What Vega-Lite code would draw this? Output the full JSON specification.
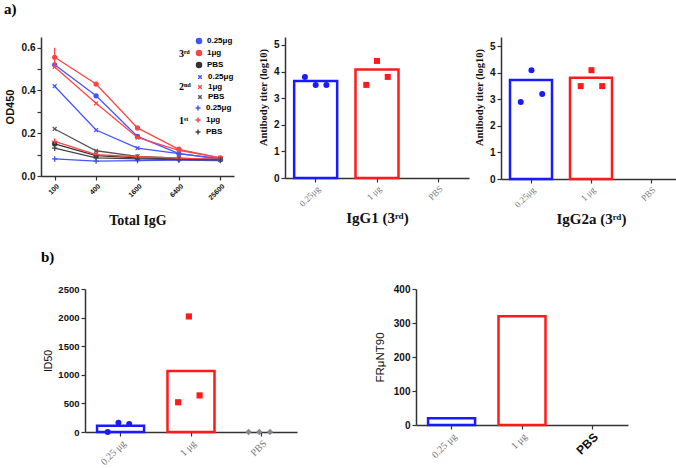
{
  "$schema": "https://vega.github.io/schema/vega-lite/v6.json",
  "background": "white",
  "padding": {"left": 4, "top": 2, "right": 2, "bottom": 2},
  "config": {
    "view": {"stroke": null},
    "axis": {"grid": false, "domainColor": "#333", "tickColor": "#333", "domainWidth": 1.5, "tickWidth": 1.2, "tickSize": 4, "labelColor": "#111", "titleColor": "#111", "labelFont": "Liberation Sans", "titleFont": "Liberation Sans"},
    "legend": {"labelFont": "Liberation Sans", "titleFont": "Liberation Serif", "layout": {"top-right": {"direction": "vertical", "margin": 2}}}
  },
  "datasets": {
    "od": [
      {"dil": "100", "grp": "3rd", "dose": "0.25μg", "od": 0.52},
      {"dil": "400", "grp": "3rd", "dose": "0.25μg", "od": 0.375},
      {"dil": "1600", "grp": "3rd", "dose": "0.25μg", "od": 0.185},
      {"dil": "6400", "grp": "3rd", "dose": "0.25μg", "od": 0.105},
      {"dil": "25600", "grp": "3rd", "dose": "0.25μg", "od": 0.08},
      {"dil": "100", "grp": "3rd", "dose": "1μg", "od": 0.555, "lo": 0.51, "hi": 0.6},
      {"dil": "400", "grp": "3rd", "dose": "1μg", "od": 0.43},
      {"dil": "1600", "grp": "3rd", "dose": "1μg", "od": 0.225},
      {"dil": "6400", "grp": "3rd", "dose": "1μg", "od": 0.125},
      {"dil": "25600", "grp": "3rd", "dose": "1μg", "od": 0.085},
      {"dil": "100", "grp": "3rd", "dose": "PBS", "od": 0.15},
      {"dil": "400", "grp": "3rd", "dose": "PBS", "od": 0.095},
      {"dil": "1600", "grp": "3rd", "dose": "PBS", "od": 0.085},
      {"dil": "6400", "grp": "3rd", "dose": "PBS", "od": 0.08},
      {"dil": "25600", "grp": "3rd", "dose": "PBS", "od": 0.078},
      {"dil": "100", "grp": "2nd", "dose": "0.25μg", "od": 0.42},
      {"dil": "400", "grp": "2nd", "dose": "0.25μg", "od": 0.215},
      {"dil": "1600", "grp": "2nd", "dose": "0.25μg", "od": 0.13},
      {"dil": "6400", "grp": "2nd", "dose": "0.25μg", "od": 0.105},
      {"dil": "25600", "grp": "2nd", "dose": "0.25μg", "od": 0.08},
      {"dil": "100", "grp": "2nd", "dose": "1μg", "od": 0.51},
      {"dil": "400", "grp": "2nd", "dose": "1μg", "od": 0.34},
      {"dil": "1600", "grp": "2nd", "dose": "1μg", "od": 0.18},
      {"dil": "6400", "grp": "2nd", "dose": "1μg", "od": 0.12},
      {"dil": "25600", "grp": "2nd", "dose": "1μg", "od": 0.085},
      {"dil": "100", "grp": "2nd", "dose": "PBS", "od": 0.22},
      {"dil": "400", "grp": "2nd", "dose": "PBS", "od": 0.118},
      {"dil": "1600", "grp": "2nd", "dose": "PBS", "od": 0.092},
      {"dil": "6400", "grp": "2nd", "dose": "PBS", "od": 0.083},
      {"dil": "25600", "grp": "2nd", "dose": "PBS", "od": 0.075},
      {"dil": "100", "grp": "1st", "dose": "0.25μg", "od": 0.08},
      {"dil": "400", "grp": "1st", "dose": "0.25μg", "od": 0.07},
      {"dil": "1600", "grp": "1st", "dose": "0.25μg", "od": 0.072},
      {"dil": "6400", "grp": "1st", "dose": "0.25μg", "od": 0.074},
      {"dil": "25600", "grp": "1st", "dose": "0.25μg", "od": 0.072},
      {"dil": "100", "grp": "1st", "dose": "1μg", "od": 0.162},
      {"dil": "400", "grp": "1st", "dose": "1μg", "od": 0.1},
      {"dil": "1600", "grp": "1st", "dose": "1μg", "od": 0.09},
      {"dil": "6400", "grp": "1st", "dose": "1μg", "od": 0.084},
      {"dil": "25600", "grp": "1st", "dose": "1μg", "od": 0.078},
      {"dil": "100", "grp": "1st", "dose": "PBS", "od": 0.13},
      {"dil": "400", "grp": "1st", "dose": "PBS", "od": 0.085},
      {"dil": "1600", "grp": "1st", "dose": "PBS", "od": 0.08},
      {"dil": "6400", "grp": "1st", "dose": "PBS", "od": 0.077},
      {"dil": "25600", "grp": "1st", "dose": "PBS", "od": 0.075}
    ],
    "igg1_bar": [
      {"dose": "0.25μg", "v": 3.65},
      {"dose": "1 μg", "v": 4.08}
    ],
    "igg1_pts": [
      {"dose": "0.25μg", "rep": "a", "v": 3.8},
      {"dose": "0.25μg", "rep": "b", "v": 3.5},
      {"dose": "0.25μg", "rep": "c", "v": 3.5},
      {"dose": "1 μg", "rep": "a", "v": 3.5},
      {"dose": "1 μg", "rep": "b", "v": 4.4},
      {"dose": "1 μg", "rep": "c", "v": 3.8}
    ],
    "igg2a_bar": [
      {"dose": "0.25μg", "v": 3.73},
      {"dose": "1 μg", "v": 3.81}
    ],
    "igg2a_pts": [
      {"dose": "0.25μg", "rep": "a", "v": 2.9},
      {"dose": "0.25μg", "rep": "b", "v": 4.1},
      {"dose": "0.25μg", "rep": "c", "v": 3.2},
      {"dose": "1 μg", "rep": "a", "v": 3.5},
      {"dose": "1 μg", "rep": "b", "v": 4.1},
      {"dose": "1 μg", "rep": "c", "v": 3.5}
    ],
    "id50_bar": [
      {"dose": "0.25 μg", "v": 110},
      {"dose": "1 μg", "v": 1065}
    ],
    "id50_pts": [
      {"dose": "0.25 μg", "rep": "a", "v": 0},
      {"dose": "0.25 μg", "rep": "b", "v": 160},
      {"dose": "0.25 μg", "rep": "c", "v": 140},
      {"dose": "1 μg", "rep": "a", "v": 520},
      {"dose": "1 μg", "rep": "b", "v": 2020},
      {"dose": "1 μg", "rep": "c", "v": 640},
      {"dose": "PBS", "rep": "a", "v": 0},
      {"dose": "PBS", "rep": "b", "v": 0},
      {"dose": "PBS", "rep": "c", "v": 0}
    ],
    "frnt_bar": [
      {"dose": "0.25 μg", "v": 20},
      {"dose": "1 μg", "v": 320}
    ]
  },
  "vconcat": [
    {
      "title": {"text": "a)", "anchor": "start", "font": "Liberation Serif", "fontSize": 15, "fontWeight": "bold", "offset": 20, "color": "#000"},
      "spacing": 24,
      "hconcat": [
        {
          "width": 193,
          "height": 139,
          "data": {"name": "od"},
          "encoding": {
            "x": {"field": "dil", "type": "ordinal", "sort": ["100", "400", "1600", "6400", "25600"], "scale": {"type": "point", "padding": 0.33},
              "axis": {"labelAngle": -45, "labelFontSize": 7, "labelFontWeight": "bold", "title": "Total IgG", "titleFont": "Liberation Serif", "titleFontSize": 14, "titleFontWeight": "bold", "titlePadding": 13}},
            "y": {"field": "od", "type": "quantitative", "scale": {"domain": [0, 0.65], "nice": false},
              "axis": {"values": [0, 0.1, 0.2, 0.3, 0.4, 0.5, 0.6], "labelExpr": "round(datum.value*10) % 2 == 0 ? format(datum.value, '.1f') : ''", "labelFontSize": 10, "labelFontWeight": "bold", "title": "OD450", "titleFontSize": 11, "titleFontWeight": "bold", "titlePadding": 6}}
          },
          "layer": [
            {
              "transform": [{"filter": "datum.grp == '3rd'"}],
              "encoding": {
                "color": {"field": "dose", "type": "nominal", "scale": {"domain": ["0.25μg", "1μg", "PBS"], "range": ["#4455ff", "#ff4444", "#333333"]},
                  "legend": {"title": "3ʳᵈ", "orient": "top-right", "offset": 0, "titleOrient": "left", "titleFontSize": 10, "titleFontWeight": "bold", "labelFontSize": 8, "labelFontWeight": "bold", "symbolSize": 25, "rowPadding": 0, "padding": 0, "labelOffset": 4}}
              },
              "layer": [
                {"mark": {"type": "line", "strokeWidth": 1.3}},
                {"mark": {"type": "point", "filled": true, "size": 28, "opacity": 1},
                  "encoding": {"shape": {"field": "dose", "type": "nominal", "scale": {"domain": ["0.25μg", "1μg", "PBS"], "range": ["circle", "circle", "circle"]}}}}
              ]
            },
            {
              "transform": [{"filter": "datum.grp == '2nd'"}],
              "encoding": {
                "color": {"field": "dose", "type": "nominal", "scale": {"domain": ["0.25μg", "1μg", "PBS"], "range": ["#4455ff", "#ff4444", "#555555"]},
                  "legend": {"title": "2ⁿᵈ", "orient": "top-right", "offset": 0, "titleOrient": "left", "titleFontSize": 10, "titleFontWeight": "bold", "labelFontSize": 8, "labelFontWeight": "bold", "symbolSize": 25, "rowPadding": 0, "padding": 0, "labelOffset": 4}}
              },
              "layer": [
                {"mark": {"type": "line", "strokeWidth": 1.3}},
                {"mark": {"type": "point", "filled": false, "size": 30, "strokeWidth": 1.3, "opacity": 1},
                  "encoding": {"shape": {"field": "dose", "type": "nominal", "scale": {"domain": ["0.25μg", "1μg", "PBS"], "range": ["M-0.7,-0.7L0.7,0.7M-0.7,0.7L0.7,-0.7", "M-0.7,-0.7L0.7,0.7M-0.7,0.7L0.7,-0.7", "M-0.7,-0.7L0.7,0.7M-0.7,0.7L0.7,-0.7"]}}}}
              ]
            },
            {
              "transform": [{"filter": "datum.grp == '1st'"}],
              "encoding": {
                "color": {"field": "dose", "type": "nominal", "scale": {"domain": ["0.25μg", "1μg", "PBS"], "range": ["#4455ff", "#ff4444", "#444444"]},
                  "legend": {"title": "1ˢᵗ", "orient": "top-right", "offset": 0, "titleOrient": "left", "titleFontSize": 10, "titleFontWeight": "bold", "labelFontSize": 8, "labelFontWeight": "bold", "symbolSize": 25, "rowPadding": 0, "padding": 0, "labelOffset": 4}}
              },
              "layer": [
                {"mark": {"type": "line", "strokeWidth": 1.3}},
                {"mark": {"type": "point", "filled": false, "size": 30, "strokeWidth": 1.3, "opacity": 1},
                  "encoding": {"shape": {"field": "dose", "type": "nominal", "scale": {"domain": ["0.25μg", "1μg", "PBS"], "range": ["M-1,0L1,0M0,-1L0,1", "M-1,0L1,0M0,-1L0,1", "M-1,0L1,0M0,-1L0,1"]}}}}
              ]
            },
            {
              "transform": [{"filter": "isValid(datum.hi)"}],
              "mark": {"type": "rule", "color": "#ff4444", "strokeWidth": 1.3},
              "encoding": {"y": {"field": "lo", "type": "quantitative"}, "y2": {"field": "hi"}}
            }
          ],
          "resolve": {"scale": {"color": "independent", "shape": "independent"}}
        },
        {
          "spacing": 5,
          "hconcat": [
            {
              "width": 184,
              "height": 141,
              "encoding": {
                "x": {"field": "dose", "type": "nominal", "scale": {"domain": ["0.25μg", "1 μg", "PBS"], "paddingInner": 0.3, "paddingOuter": 0.15},
                  "axis": {"labelAngle": -45, "labelFont": "Liberation Serif", "labelFontSize": 9, "labelColor": "#777", "title": "IgG1 (3ʳᵈ)", "titleFont": "Liberation Serif", "titleFontSize": 15, "titleFontWeight": "bold", "titlePadding": 2}},
                "y": {"field": "v", "type": "quantitative", "scale": {"domain": [0, 5.3], "nice": false},
                  "axis": {"values": [0, 1, 2, 3, 4, 5], "labelFontSize": 10, "labelFontWeight": "bold", "title": "Antibody  titer (log10)", "titleFont": "Liberation Serif", "titleFontSize": 10.5, "titleFontWeight": "bold", "titlePadding": 5, "titleY": 60}}
              },
              "layer": [
                {"data": {"name": "igg1_bar"}, "mark": {"type": "bar", "fill": "white", "strokeWidth": 2.5, "width": 43},
                  "encoding": {"stroke": {"field": "dose", "type": "nominal", "scale": {"domain": ["0.25μg", "1 μg", "PBS"], "range": ["#1a1aff", "#ff1a1a", "#888"]}, "legend": null}}},
                {"data": {"name": "igg1_pts"}, "mark": {"type": "point", "filled": true, "size": 36, "opacity": 1},
                  "encoding": {
                    "xOffset": {"field": "rep", "type": "nominal", "scale": {"paddingOuter": 1.5}},
                    "color": {"field": "dose", "type": "nominal", "scale": {"domain": ["0.25μg", "1 μg", "PBS"], "range": ["#1a1aff", "#ff1a1a", "#888"]}, "legend": null},
                    "shape": {"field": "dose", "type": "nominal", "scale": {"domain": ["0.25μg", "1 μg", "PBS"], "range": ["circle", "square", "diamond"]}, "legend": null}
                  }}
              ]
            },
            {
              "width": 180,
              "height": 142,
              "encoding": {
                "x": {"field": "dose", "type": "nominal", "scale": {"domain": ["0.25μg", "1 μg", "PBS"], "paddingInner": 0.3, "paddingOuter": 0.15},
                  "axis": {"labelAngle": -45, "labelFont": "Liberation Serif", "labelFontSize": 9, "labelColor": "#777", "title": "IgG2a (3ʳᵈ)", "titleFont": "Liberation Serif", "titleFontSize": 15, "titleFontWeight": "bold", "titlePadding": 2}},
                "y": {"field": "v", "type": "quantitative", "scale": {"domain": [0, 5.35], "nice": false},
                  "axis": {"values": [0, 1, 2, 3, 4, 5], "labelFontSize": 10, "labelFontWeight": "bold", "title": "Antibody  titer (log10)", "titleFont": "Liberation Serif", "titleFontSize": 10.5, "titleFontWeight": "bold", "titlePadding": 5, "titleY": 60}}
              },
              "layer": [
                {"data": {"name": "igg2a_bar"}, "mark": {"type": "bar", "fill": "white", "strokeWidth": 2.5, "width": 42},
                  "encoding": {"stroke": {"field": "dose", "type": "nominal", "scale": {"domain": ["0.25μg", "1 μg", "PBS"], "range": ["#1a1aff", "#ff1a1a", "#888"]}, "legend": null}}},
                {"data": {"name": "igg2a_pts"}, "mark": {"type": "point", "filled": true, "size": 36, "opacity": 1},
                  "encoding": {
                    "xOffset": {"field": "rep", "type": "nominal", "scale": {"paddingOuter": 1.5}},
                    "color": {"field": "dose", "type": "nominal", "scale": {"domain": ["0.25μg", "1 μg", "PBS"], "range": ["#1a1aff", "#ff1a1a", "#888"]}, "legend": null},
                    "shape": {"field": "dose", "type": "nominal", "scale": {"domain": ["0.25μg", "1 μg", "PBS"], "range": ["circle", "square", "diamond"]}, "legend": null}
                  }}
              ]
            }
          ]
        }
      ]
    },
    {
      "title": {"text": "b)", "anchor": "start", "font": "Liberation Serif", "fontSize": 15, "fontWeight": "bold", "offset": 19, "color": "#000"},
      "spacing": 1,
      "hconcat": [
        {"width": 1, "height": 10, "data": {"values": []}, "mark": {"type": "point", "opacity": 0}, "encoding": {}},
        {
          "spacing": 77,
          "hconcat": [
            {
              "width": 212,
              "height": 143,
              "encoding": {
                "x": {"field": "dose", "type": "nominal", "scale": {"domain": ["0.25 μg", "1 μg", "PBS"], "paddingInner": 0.33, "paddingOuter": 0.17},
                  "axis": {"labelAngle": -45, "labelFont": "Liberation Serif", "labelFontSize": 10, "labelColor": "#777", "title": null}},
                "y": {"field": "v", "type": "quantitative", "scale": {"domain": [0, 2500], "nice": false},
                  "axis": {"values": [0, 500, 1000, 1500, 2000, 2500], "format": "d", "labelFontSize": 9.5, "labelFontWeight": "bold", "title": "ID50", "titleFontSize": 10.5, "titleFontWeight": "normal", "titlePadding": 4}}
              },
              "layer": [
                {"data": {"name": "id50_bar"}, "mark": {"type": "bar", "fill": "white", "strokeWidth": 2.5, "width": 47},
                  "encoding": {"stroke": {"field": "dose", "type": "nominal", "scale": {"domain": ["0.25 μg", "1 μg", "PBS"], "range": ["#1a1aff", "#ff1a1a", "#888"]}, "legend": null}}},
                {"data": {"name": "id50_pts"}, "mark": {"type": "point", "filled": true, "size": 36, "opacity": 1},
                  "encoding": {
                    "xOffset": {"field": "rep", "type": "nominal", "scale": {"paddingOuter": 1.5}},
                    "color": {"field": "dose", "type": "nominal", "scale": {"domain": ["0.25 μg", "1 μg", "PBS"], "range": ["#1a1aff", "#ff1a1a", "#888"]}, "legend": null},
                    "shape": {"field": "dose", "type": "nominal", "scale": {"domain": ["0.25 μg", "1 μg", "PBS"], "range": ["circle", "square", "diamond"]}, "legend": null},
                    "size": {"field": "dose", "type": "nominal", "scale": {"domain": ["0.25 μg", "1 μg", "PBS"], "range": [36, 40, 18]}, "legend": null}
                  }}
              ]
            },
            {
              "width": 212,
              "height": 136,
              "data": {"name": "frnt_bar"},
              "mark": {"type": "bar", "fill": "white", "strokeWidth": 2.5, "width": 47},
              "encoding": {
                "x": {"field": "dose", "type": "nominal", "scale": {"domain": ["0.25 μg", "1 μg", "PBS"], "paddingInner": 0.33, "paddingOuter": 0.17},
                  "axis": {"labelAngle": -45, "labelFont": {"condition": {"test": "datum.value == 'PBS'", "value": "Liberation Sans"}, "value": "Liberation Serif"}, "labelFontSize": {"condition": {"test": "datum.value == 'PBS'", "value": 12}, "value": 10}, "labelFontWeight": {"condition": {"test": "datum.value == 'PBS'", "value": "bold"}, "value": "normal"}, "labelColor": {"condition": {"test": "datum.value == 'PBS'", "value": "#111"}, "value": "#777"}, "title": null}},
                "y": {"field": "v", "type": "quantitative", "scale": {"domain": [0, 400], "nice": false},
                  "axis": {"values": [0, 100, 200, 300, 400], "labelFontSize": 10, "labelFontWeight": "bold", "title": "FRμNT90", "titleFontSize": 11.5, "titleFontWeight": "normal", "titlePadding": 8}},
                "stroke": {"field": "dose", "type": "nominal", "scale": {"domain": ["0.25 μg", "1 μg", "PBS"], "range": ["#1a1aff", "#ff1a1a", "#888"]}, "legend": null}
              }
            }
          ]
        }
      ]
    }
  ],
  "spacing": 22
}
